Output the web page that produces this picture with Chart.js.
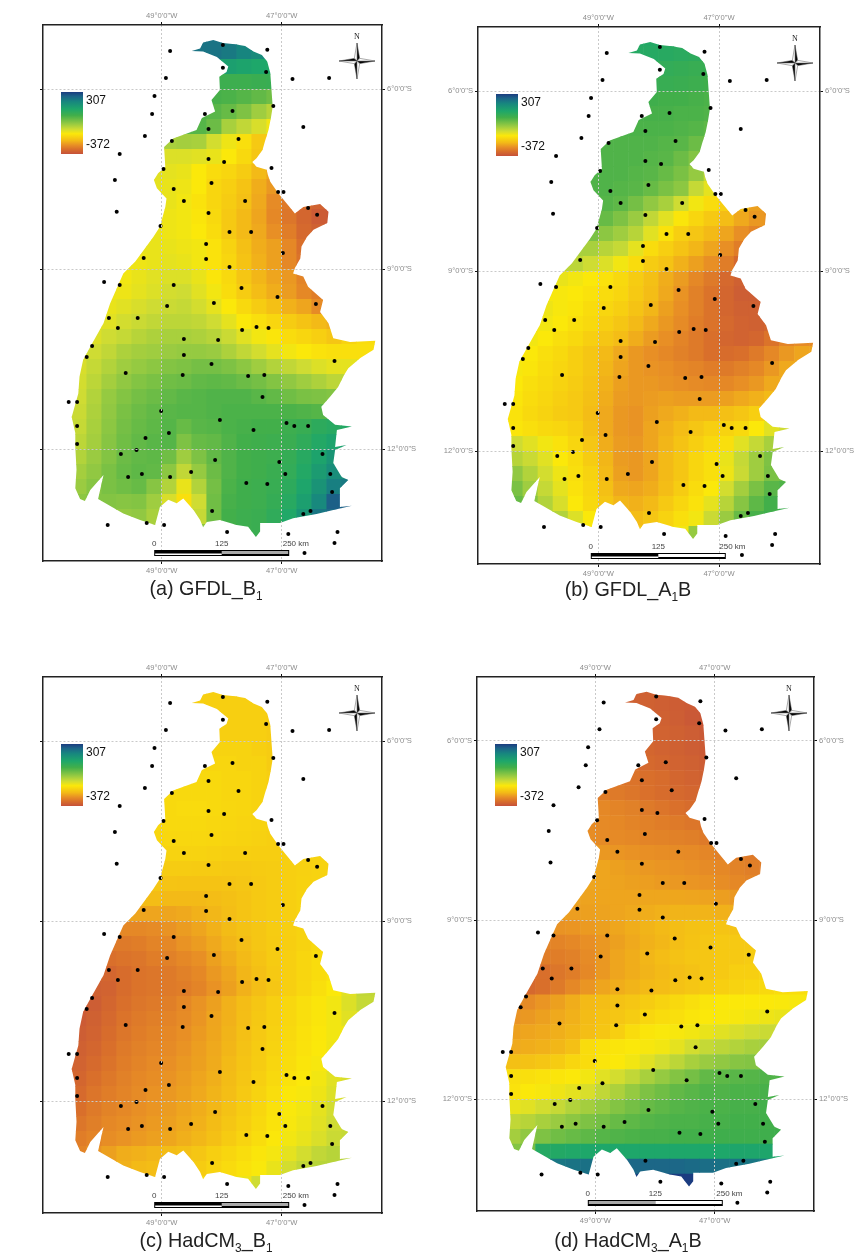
<!DOCTYPE html>
<html>
<head>
<meta charset="utf-8">
<script src="https://cdn.jsdelivr.net/npm/chart.js"></script>
<style>
html, body { margin: 0; padding: 0; background: #fff; }
#page { position: relative; width: 857px; height: 1253px; overflow: hidden; background: #fff; }
canvas { position: absolute; }
.caption { position: absolute; transform: translate(-50%, -50%); font: 19.8px "Liberation Sans", Arial, sans-serif; color: #222; white-space: nowrap; line-height: 1; }
.caption sub { font-size: .6em; line-height: 0; }
</style>
</head>
<body>
<div id="page"></div>
<script>
// ticks
var lonTicks = [-49, -47];
var latTicks = [-6, -9, -12];

// colour scale of the maps (mm)
var legendMax = 307;
var legendMin = -372;
var rampValues = [-372, -320, -275, -225, -150, -100, -45, 50, 120, 205, 260, 307];
var rampColors = ['#C5513A', '#D96F2B', '#E88F25', '#F3BA17', '#FBE80A', '#CFDC33', '#9ACB41', '#42AF4A', '#1EA76A', '#17857F', '#1C6488', '#1B3C80'];

// state outline, lon and lat
var outlineLon = [-48.50,-48.36,-48.31,-48.14,-47.98,-47.78,-47.61,-47.47,-47.33,-47.24,-47.19,-47.17,-47.15,-47.18,-47.22,-47.28,-47.32,-47.42,-47.49,-47.42,-47.25,-47.23,-47.19,-47.06,-46.92,-46.78,-46.64,-46.36,-46.22,-46.24,-46.47,-46.58,-46.67,-46.69,-46.78,-46.81,-46.64,-46.56,-46.31,-46.36,-46.22,-46.14,-45.86,-45.44,-45.47,-45.69,-45.89,-45.96,-46.06,-46.19,-46.34,-46.31,-46.11,-45.83,-46.08,-46.11,-45.92,-46.11,-46.14,-46.00,-45.89,-46.03,-46.03,-45.83,-46.14,-46.42,-46.81,-47.03,-47.36,-47.36,-47.43,-47.56,-47.75,-48.03,-48.25,-48.31,-48.36,-48.47,-48.64,-48.75,-48.89,-49.03,-49.11,-49.36,-49.64,-50.06,-49.97,-50.19,-50.28,-50.36,-50.44,-50.42,-50.44,-50.44,-50.50,-50.39,-50.37,-50.31,-50.19,-49.97,-49.86,-49.64,-49.44,-49.14,-49.03,-48.94,-48.92,-49.08,-49.13,-49.06,-48.94,-48.96,-48.81,-48.42,-48.33,-48.11,-48.17,-48.03,-48.04,-47.92,-47.89,-48.08,-48.31];
var outlineLat = [-5.36,-5.32,-5.22,-5.18,-5.23,-5.25,-5.28,-5.37,-5.43,-5.54,-5.73,-6.01,-6.29,-6.48,-6.68,-6.87,-7.01,-7.15,-7.21,-7.29,-7.34,-7.43,-7.54,-7.73,-7.90,-8.07,-7.96,-7.91,-8.04,-8.23,-8.34,-8.46,-8.62,-8.82,-8.98,-9.07,-9.12,-9.29,-9.51,-9.71,-9.90,-10.15,-10.21,-10.19,-10.34,-10.48,-10.65,-10.76,-10.96,-11.12,-11.29,-11.43,-11.59,-11.62,-11.68,-11.96,-11.93,-12.01,-12.23,-12.46,-12.51,-12.65,-12.96,-12.94,-13.01,-13.08,-13.15,-13.23,-13.23,-13.37,-13.46,-13.29,-13.26,-13.18,-13.21,-13.30,-13.18,-13.01,-12.82,-12.90,-12.84,-12.96,-13.26,-13.18,-13.07,-12.83,-12.43,-12.68,-12.86,-12.83,-12.65,-12.34,-11.96,-11.73,-11.46,-11.07,-10.79,-10.51,-10.29,-9.90,-9.57,-9.07,-8.87,-8.46,-8.29,-7.96,-7.82,-7.65,-7.51,-7.40,-7.29,-6.96,-6.82,-6.68,-6.48,-6.37,-6.18,-6.01,-5.79,-5.71,-5.62,-5.46,-5.37];

// rain gauge stations
var stationLon = [-48.86,-47.98,-47.24,-47.98,-47.26,-48.93,-46.82,-46.21,-49.12,-47.14,-49.16,-48.28,-47.82,-48.22,-46.64,-49.28,-48.83,-47.72,-49.70,-48.22,-47.96,-47.17,-48.97,-49.78,-48.17,-48.80,-47.06,-46.97,-48.63,-47.61,-46.56,-49.75,-48.22,-46.41,-49.02,-47.87,-47.51,-48.26,-46.98,-49.30,-48.26,-47.87,-49.96,-49.70,-48.80,-47.67,-47.07,-46.43,-48.91,-48.13,-49.88,-49.40,-49.73,-47.42,-47.66,-47.22,-48.63,-48.06,-50.16,-50.25,-48.63,-46.12,-48.17,-49.60,-48.65,-47.56,-47.29,-47.32,-50.55,-50.41,-49.01,-48.03,-46.92,-46.79,-46.56,-50.41,-47.47,-48.88,-49.27,-50.41,-49.42,-49.68,-46.32,-48.11,-47.04,-49.33,-48.51,-46.94,-46.19,-49.56,-48.86,-47.59,-47.24,-46.16,-48.16,-46.52,-46.64,-49.25,-49.90,-48.96,-47.91,-46.07,-46.89,-46.12,-46.62];
var stationLat = [-5.36,-5.26,-5.34,-5.64,-5.71,-5.81,-5.83,-5.81,-6.11,-6.28,-6.41,-6.41,-6.36,-6.66,-6.63,-6.78,-6.86,-6.83,-7.08,-7.16,-7.21,-7.31,-7.33,-7.51,-7.56,-7.66,-7.71,-7.71,-7.86,-7.86,-7.98,-8.04,-8.06,-8.09,-8.28,-8.38,-8.38,-8.58,-8.73,-8.81,-8.83,-8.96,-9.21,-9.26,-9.26,-9.31,-9.46,-9.58,-9.61,-9.56,-9.81,-9.81,-9.98,-9.96,-10.01,-9.98,-10.16,-10.18,-10.28,-10.46,-10.43,-10.53,-10.58,-10.73,-10.76,-10.78,-10.76,-11.13,-11.21,-11.21,-11.36,-11.51,-11.56,-11.61,-11.61,-11.61,-11.68,-11.73,-11.81,-11.91,-12.01,-12.08,-12.08,-12.18,-12.21,-12.41,-12.38,-12.41,-12.41,-12.46,-12.46,-12.56,-12.58,-12.71,-13.03,-13.03,-13.08,-13.23,-13.26,-13.26,-13.38,-13.38,-13.41,-13.56,-13.73];

// 0.25 degree grid: first column of each row, row 0 starts at 5S, column 0 at 50.5W
var rowStartCol = [8,8,10,10,9,8,8,6,6,5,5,6,5,5,5,4,3,3,2,2,1,0,0,0,0,0,0,0,0,0,0,0,3,5];

var gfdlB1Rows = [
[235,235,225,210],
[235,235,225,205,190,175],
[140,130,120,115],
[60,60,65,70],
[45,40,30,15,0],
[35,25,10,-15,-50,-75],
[30,5,-60,-85,-110,-140],
[-60,-55,-60,-105,-135,-165,-200],
[-115,-115,-120,-130,-150,-175,-205],
[-120,-125,-130,-150,-170,-180,-195,-225,-250],
[-125,-130,-135,-150,-180,-190,-210,-240,-265],
[-130,-140,-160,-180,-195,-215,-245,-280,-305,-325,-340],
[-130,-135,-140,-155,-175,-200,-225,-250,-285,-310,-335,-355,-360],
[-130,-135,-140,-150,-170,-200,-225,-245,-275,-300,-330,-345],
[-130,-130,-135,-140,-160,-185,-215,-240,-255,-285,-320],
[-135,-130,-125,-130,-140,-160,-180,-210,-235,-255,-285,-315],
[-140,-130,-120,-115,-115,-130,-155,-175,-205,-230,-250,-265,-290],
[-135,-125,-115,-105,-100,-120,-140,-170,-195,-220,-240,-260,-285,-300],
[-130,-120,-110,-100,-95,-90,-105,-125,-150,-175,-195,-215,-235,-250,-280],
[-120,-105,-95,-85,-80,-80,-85,-100,-125,-150,-165,-180,-195,-210,-225,-235],
[-115,-100,-90,-75,-65,-60,-60,-65,-75,-95,-120,-140,-155,-170,-180,-190,-205,-185,-170],
[-115,-100,-85,-65,-55,-50,-45,-40,-40,-45,-65,-85,-105,-125,-140,-150,-160,-165,-165,-165],
[-110,-90,-70,-50,-40,-30,-20,-15,-5,-5,-15,-30,-50,-70,-85,-100,-115,-125,-125],
[-105,-80,-55,-35,-20,-10,0,5,15,20,15,5,-5,-20,-35,-50,-65,-80],
[-100,-70,-40,-20,-5,5,15,25,30,35,35,35,25,15,0,-10,-15,-20],
[-95,-65,-35,-10,5,15,25,30,30,35,40,40,40,40,40,35,30],
[-90,-60,-30,-5,10,20,30,10,25,30,40,45,50,50,60,70,90,100,110],
[-80,-55,-25,0,15,25,30,-15,10,15,35,50,55,60,65,85,110,130,140],
[-70,-45,-20,5,15,20,0,-50,-15,15,35,50,55,60,75,100,130,165],
[-55,-35,-10,10,20,15,-30,-85,-40,5,35,50,55,65,80,110,150,185,190],
[-45,-25,-10,0,10,-25,-70,-130,-70,-5,40,55,60,70,90,125,170,215,225],
[-30,-20,-20,-25,-20,-50,-110,-165,-100,0,45,55,60,75,100,140,195,265,265],
[-40,-35,-60,-100,-150,-90,0,50,60,65,85,115,165,230,250],
[-60,-80,-90,-30,30,50,60,65]
];

var gfdlA1bRows = [
[110,110,105,100],
[105,105,100,95,90,85],
[80,75,70,70],
[70,65,60,55],
[55,50,50,45,40],
[45,45,45,40,40,35],
[40,40,40,35,30,20],
[35,35,35,35,30,25,5],
[35,35,35,30,25,5,-20],
[35,35,35,30,25,10,-10,-40,-90],
[35,35,30,25,10,-10,-30,-90,-125],
[30,20,-5,-35,-60,-100,-140,-170,-190,-215,-255],
[15,10,-15,-45,-85,-120,-155,-180,-200,-220,-245,-265,-270],
[-10,-30,-50,-75,-120,-160,-190,-205,-225,-250,-275,-290],
[-60,-75,-90,-125,-170,-190,-210,-230,-250,-275,-300],
[-80,-100,-115,-140,-170,-195,-210,-235,-255,-275,-300,-330],
[-130,-140,-150,-160,-175,-195,-215,-240,-260,-285,-305,-330,-345],
[-145,-150,-160,-170,-180,-200,-220,-245,-270,-295,-315,-335,-350,-350],
[-135,-145,-155,-170,-180,-190,-210,-230,-255,-275,-295,-315,-335,-345,-345],
[-140,-150,-165,-175,-190,-205,-225,-245,-265,-280,-300,-315,-330,-340,-345,-335],
[-140,-150,-165,-175,-190,-205,-220,-240,-260,-275,-290,-305,-320,-335,-340,-335,-315,-290,-280],
[-140,-150,-165,-175,-190,-205,-225,-245,-265,-275,-285,-295,-305,-320,-325,-320,-305,-285,-265,-250],
[-145,-155,-170,-180,-190,-205,-230,-250,-265,-270,-275,-285,-290,-300,-305,-295,-285,-265,-245],
[-150,-165,-175,-185,-195,-210,-235,-255,-265,-265,-270,-275,-280,-285,-285,-275,-265,-245],
[-155,-170,-180,-190,-200,-215,-240,-260,-265,-260,-255,-260,-260,-260,-255,-245,-235,-225],
[-160,-175,-185,-195,-200,-220,-245,-265,-270,-255,-245,-235,-225,-225,-215,-205,-190],
[-155,-165,-175,-180,-190,-215,-245,-265,-270,-250,-235,-220,-205,-190,-185,-175,-150,-120,-100],
[-100,-120,-140,-160,-180,-205,-240,-260,-265,-250,-230,-210,-190,-175,-165,-120,-90,-60,-40],
[-75,-95,-120,-150,-170,-195,-230,-260,-265,-250,-225,-205,-180,-165,-130,-90,-50,-15],
[-35,-70,-105,-135,-165,-185,-225,-255,-265,-250,-225,-205,-180,-165,-135,-95,-50,-10,0],
[-10,-50,-90,-125,-160,-180,-215,-245,-250,-240,-220,-195,-170,-150,-105,-55,-10,25,35],
[10,-25,-70,-110,-150,-175,-205,-230,-235,-225,-200,-180,-160,-125,-75,-25,20,50,60],
[-70,-115,-150,-190,-210,-220,-205,-185,-165,-140,-95,-45,10,45,55],
[-160,-190,-200,-200,-185,-165,-140,-40]
];

var hadcmB1Rows = [
[-190,-190,-190,-190],
[-190,-190,-190,-190,-190,-195],
[-190,-190,-190,-195],
[-190,-190,-190,-195],
[-185,-185,-185,-190,-195],
[-180,-180,-180,-185,-185,-195],
[-175,-175,-180,-180,-185,-190],
[-175,-175,-175,-175,-180,-180,-185],
[-175,-172,-172,-175,-178,-180,-185],
[-178,-175,-175,-175,-178,-180,-182,-185,-188],
[-180,-178,-178,-178,-180,-182,-185,-188,-190],
[-185,-185,-185,-188,-190,-190,-192,-192,-190,-188,-185],
[-195,-195,-195,-198,-198,-200,-200,-198,-195,-190,-188,-185,-185],
[-205,-208,-210,-210,-210,-208,-205,-200,-195,-190,-186,-185],
[-220,-225,-225,-225,-220,-215,-208,-200,-195,-190,-185],
[-250,-250,-250,-245,-235,-228,-218,-208,-200,-195,-190,-185],
[-285,-285,-280,-270,-260,-250,-235,-222,-212,-205,-195,-190,-185],
[-305,-300,-290,-285,-270,-260,-245,-230,-218,-205,-198,-192,-185,-175],
[-320,-315,-310,-300,-295,-285,-275,-255,-240,-225,-210,-198,-190,-180,-170],
[-335,-325,-315,-310,-305,-295,-285,-265,-250,-230,-215,-200,-190,-180,-170,-160],
[-345,-340,-325,-315,-310,-305,-300,-290,-272,-255,-235,-218,-205,-190,-178,-165,-150,-120,-85],
[-355,-350,-335,-320,-310,-305,-298,-285,-270,-255,-235,-220,-205,-190,-178,-165,-155,-140,-115,-90],
[-355,-345,-330,-315,-305,-298,-290,-280,-268,-250,-235,-218,-202,-190,-178,-165,-155,-140,-120],
[-350,-340,-325,-310,-300,-292,-285,-275,-262,-248,-232,-215,-200,-188,-175,-162,-152,-140],
[-345,-335,-320,-305,-295,-288,-280,-270,-258,-245,-230,-212,-198,-185,-172,-160,-150,-138],
[-340,-328,-315,-300,-290,-282,-275,-265,-255,-242,-225,-208,-195,-180,-168,-155,-145],
[-335,-320,-308,-295,-285,-278,-270,-260,-250,-238,-222,-205,-190,-175,-160,-150,-140,-120,-110],
[-328,-312,-300,-290,-280,-272,-265,-255,-245,-232,-218,-200,-185,-168,-152,-145,-135,-115,-105],
[-320,-305,-292,-285,-275,-268,-260,-250,-240,-228,-212,-195,-180,-162,-148,-140,-125,-105],
[-310,-298,-285,-278,-270,-262,-255,-245,-235,-222,-205,-190,-175,-158,-145,-135,-120,-100,-95],
[-300,-290,-278,-270,-262,-255,-248,-238,-228,-215,-198,-182,-168,-152,-140,-128,-112,-95,-90],
[-290,-270,-255,-240,-235,-230,-222,-215,-205,-190,-180,-168,-155,-142,-125,-105,-85,-75,-75],
[-235,-225,-220,-212,-205,-195,-182,-172,-160,-148,-130,-105,-85,-75,-75],
[-205,-195,-185,-170,-160,-150,-135,-100]
];

var hadcmA1bRows = [
[-345,-345,-345,-345],
[-345,-345,-348,-352,-355,-358],
[-345,-350,-358,-362],
[-340,-345,-350,-358],
[-335,-340,-345,-350,-355],
[-325,-330,-335,-340,-345,-352],
[-315,-320,-325,-335,-340,-345],
[-300,-305,-310,-318,-325,-330,-335],
[-285,-290,-295,-305,-312,-318,-325],
[-280,-282,-285,-290,-295,-300,-305,-310,-315],
[-278,-280,-282,-285,-290,-292,-295,-298,-305],
[-265,-268,-272,-275,-278,-280,-282,-288,-295,-300,-305],
[-250,-250,-255,-260,-265,-268,-272,-275,-280,-285,-292,-298,-300],
[-250,-250,-252,-255,-258,-262,-265,-268,-272,-278,-285,-290],
[-252,-250,-250,-250,-248,-248,-248,-250,-252,-258,-265],
[-258,-255,-252,-250,-245,-240,-235,-232,-232,-232,-235,-240],
[-270,-268,-262,-255,-248,-240,-232,-225,-218,-212,-210,-208,-210],
[-290,-285,-275,-265,-255,-245,-235,-228,-218,-210,-205,-200,-200,-200],
[-300,-300,-295,-280,-265,-250,-240,-230,-220,-212,-205,-205,-200,-200,-195],
[-320,-310,-300,-285,-265,-250,-240,-232,-225,-218,-212,-205,-200,-190,-190,-185],
[-330,-320,-305,-285,-268,-250,-240,-232,-225,-220,-212,-205,-198,-190,-185,-180,-175,-170,-168],
[-290,-280,-268,-255,-240,-225,-218,-212,-205,-195,-185,-175,-165,-155,-150,-150,-150,-150,-148,-145],
[-270,-265,-255,-245,-235,-222,-210,-205,-195,-180,-170,-165,-155,-150,-148,-145,-140,-135,-130],
[-255,-250,-245,-238,-230,-218,-205,-190,-170,-155,-148,-145,-140,-130,-120,-110,-100,-95],
[-245,-240,-235,-228,-215,-170,-160,-155,-150,-145,-140,-125,-105,-90,-80,-70,-60,-55],
[-215,-212,-205,-195,-180,-170,-155,-150,-140,-120,-100,-80,-60,-45,-35,-25,-20],
[-165,-165,-160,-155,-150,-140,-120,-105,-85,-60,-40,-20,-5,15,20,25,30,35,35],
[-160,-150,-145,-135,-125,-110,-85,-65,-40,-15,0,15,25,35,35,40,40,45,45],
[-130,-120,-105,-90,-70,-55,-40,-20,-5,10,20,30,35,40,40,45,45,50],
[-85,-75,-60,-45,-30,-15,-5,10,20,30,35,40,40,45,45,50,50,50,50],
[-55,-35,-15,0,10,20,30,35,40,45,45,50,50,50,55,55,55,55,55],
[-20,-5,105,110,115,120,120,120,120,120,120,120,120,120,120,125,125,125,125],
[230,235,240,245,250,255,255,255,255,250,245,240,235,230,225],
[270,285,295,300,300,305,307,307]
];

// where each map sits on the page
var panels = [
    { rows: gfdlB1Rows, caption: '(a) GFDL_B<sub>1</sub>', capX: 206, capY: 589, left: 43, right: 382, top: 25, bottom: 561, lon49: 161.7, lon47: 281.7, lat6: 89.3, lat12: 449.3, leftLabels: false, barLeft: '#fff', barRight: '#aaa' },
    { rows: gfdlA1bRows, caption: '(b) GFDL_A<sub>1</sub>B', capX: 628, capY: 590, left: 478, right: 820, top: 27, bottom: 564, lon49: 598.3, lon47: 719, lat6: 91.3, lat12: 451.3, leftLabels: true, barLeft: '#fff', barRight: '#fff' },
    { rows: hadcmB1Rows, caption: '(c) HadCM<sub>3</sub>_B<sub>1</sub>', capX: 206, capY: 1241, left: 43, right: 382, top: 677, bottom: 1213, lon49: 161.7, lon47: 281.7, lat6: 741.3, lat12: 1101.3, leftLabels: false, barLeft: '#fff', barRight: '#aaa' },
    { rows: hadcmA1bRows, caption: '(d) HadCM<sub>3</sub>_A<sub>1</sub>B', capX: 628, capY: 1241, left: 477, right: 814, top: 677, bottom: 1211, lon49: 595.3, lon47: 714.7, lat6: 740.7, lat12: 1099.3, leftLabels: true, barLeft: '#aaa', barRight: '#fff' }
];

var sideW = 40;
var sideH = 25;
var fontName = '"Liberation Sans", Arial, sans-serif';

function hexToRgb(h) {
    return [parseInt(h.substr(1, 2), 16), parseInt(h.substr(3, 2), 16), parseInt(h.substr(5, 2), 16)];
}

function colorFor(v) {
    var i = 0;
    while (i < rampValues.length - 2 && v > rampValues[i + 1]) i++;
    var f = (v - rampValues[i]) / (rampValues[i + 1] - rampValues[i]);
    f = Math.max(0, Math.min(1, f));
    var a = hexToRgb(rampColors[i]), b = hexToRgb(rampColors[i + 1]);
    return 'rgb(' + Math.round(a[0] + (b[0] - a[0]) * f) + ',' + Math.round(a[1] + (b[1] - a[1]) * f) + ',' + Math.round(a[2] + (b[2] - a[2]) * f) + ')';
}

function buildCells(rows) {
    var cells = [];
    rows.forEach(function (row, r) {
        var first = rowStartCol[r];
        var y = -5.125 - 0.25 * r;
        // the end cells go one further out so the border clip never shows a gap
        cells.push({ x: -50.375 + 0.25 * (first - 1), y: y, v: row[0] });
        cells.push({ x: -50.375 + 0.25 * (first + row.length), y: y, v: row[row.length - 1] });
        row.forEach(function (v, k) {
            cells.push({ x: -50.375 + 0.25 * (first + k), y: y, v: v });
        });
    });
    return cells;
}

// the maps are clipped to the state border
var outlineClip = {
    id: 'outlineClip',
    beforeDatasetDraw: function (chart, args) {
        if (args.index !== 1) return;
        var ctx = chart.ctx;
        ctx.save();
        ctx.beginPath();
        outlineLon.forEach(function (lon, i) {
            var px = chart.scales.x.getPixelForValue(lon);
            var py = chart.scales.y.getPixelForValue(outlineLat[i]);
            if (i === 0) ctx.moveTo(px, py); else ctx.lineTo(px, py);
        });
        ctx.closePath();
        ctx.clip();
    },
    afterDatasetDraw: function (chart, args) {
        if (args.index === 1) chart.ctx.restore();
    }
};

function drawLegend(ctx, a) {
    var x = a.left + 18, y = a.top + 67, w = 22, h = 62;
    var g = ctx.createLinearGradient(0, y + h, 0, y);
    rampValues.forEach(function (v, i) {
        g.addColorStop((v - legendMin) / (legendMax - legendMin), rampColors[i]);
    });
    ctx.fillStyle = g;
    ctx.fillRect(x, y, w, h);
    ctx.fillStyle = '#111';
    ctx.font = '12px ' + fontName;
    ctx.textAlign = 'left';
    ctx.textBaseline = 'middle';
    ctx.fillText(String(legendMax), x + 25, y + 9);
    ctx.fillText(String(legendMin), x + 25, y + 53);
}

function drawCompass(ctx, a) {
    var cx = a.right - 25, cy = a.top + 36, len = 18, s = 2.6;
    var dirs = [[0, -1], [1, 0], [0, 1], [-1, 0]];
    dirs.forEach(function (d) {
        var nx = -d[1], ny = d[0];
        [[1, '#000'], [-1, '#fff']].forEach(function (side) {
            ctx.beginPath();
            ctx.moveTo(cx, cy);
            ctx.lineTo(cx + d[0] * len, cy + d[1] * len);
            ctx.lineTo(cx + d[0] * 3 + nx * s * side[0], cy + d[1] * 3 + ny * s * side[0]);
            ctx.closePath();
            ctx.fillStyle = side[1];
            ctx.strokeStyle = '#555';
            ctx.lineWidth = 0.5;
            ctx.fill();
            ctx.stroke();
        });
    });
    ctx.fillStyle = '#222';
    ctx.font = '8px "Liberation Serif", serif';
    ctx.textAlign = 'center';
    ctx.textBaseline = 'middle';
    ctx.fillText('N', cx, cy - 24);
}

function drawScaleBar(ctx, a, p, x49) {
    var x = x49 - 7.5, w = 135, half = w / 2, y = a.bottom - 11, h = 6;
    ctx.fillStyle = '#000';
    ctx.fillRect(x, y, w, h);
    ctx.fillStyle = p.barLeft;
    if (p.barLeft === '#aaa') ctx.fillRect(x + 1, y + 1, half - 1, 3);
    else ctx.fillRect(x + 1, y + 3.5, half - 1, 1.5);
    ctx.fillStyle = p.barRight;
    ctx.fillRect(x + half, y + 1, half - 1, 3);
    ctx.fillStyle = '#444';
    ctx.font = '8px ' + fontName;
    ctx.textBaseline = 'middle';
    ctx.textAlign = 'center';
    ctx.fillText('0', x, y - 6.5);
    ctx.fillText('125', x + half, y - 6.5);
    ctx.textAlign = 'left';
    ctx.fillText('250 km', x + w - 6.5, y - 6.5);
}

var mapExtras = {
    id: 'mapExtras',
    afterDraw: function (chart) {
        var ctx = chart.ctx, a = chart.chartArea, p = chart.options.plugins.mapExtras.panel;
        ctx.save();
        drawLegend(ctx, a);
        drawCompass(ctx, a);
        drawScaleBar(ctx, a, p, chart.scales.x.getPixelForValue(-49));
        ctx.restore();
    }
};

function lonLabel(v) { return (-v) + '\u00B00\'0"W'; }
function latLabel(v) { return (-v) + '\u00B00\'0"S'; }

function axisOptions(position, tickValues, range, label, drawGrid, fit) {
    return {
        type: 'linear',
        position: position,
        min: range[0],
        max: range[1],
        afterBuildTicks: function (scale) {
            scale.ticks = tickValues.map(function (v) { return { value: v }; });
        },
        afterFit: fit,
        grid: { color: '#c9c9c9', lineWidth: 1, tickColor: '#111', tickLength: 3, z: 1, drawOnChartArea: drawGrid },
        border: { display: true, color: '#222', width: 1.5, dash: [2, 2], z: 1 },
        ticks: {
            autoSkip: false,
            maxRotation: 0,
            padding: 2,
            color: '#8c8c8c',
            font: { family: fontName, size: 7.6 },
            callback: label
        }
    };
}

var page = document.getElementById('page');

panels.forEach(function (p) {
    var canvas = document.createElement('canvas');
    var w = p.right - p.left + sideW * 2;
    var h = p.bottom - p.top + sideH * 2;
    canvas.width = w;
    canvas.height = h;
    canvas.style.left = (p.left - sideW) + 'px';
    canvas.style.top = (p.top - sideH) + 'px';
    page.appendChild(canvas);

    var cap = document.createElement('div');
    cap.className = 'caption';
    cap.style.left = p.capX + 'px';
    cap.style.top = p.capY + 'px';
    cap.innerHTML = p.caption;
    page.appendChild(cap);

    var pxLon = (p.lon47 - p.lon49) / 2;
    var pxLat = (p.lat12 - p.lat6) / 6;
    var xRange = [-49 + (p.left - p.lon49) / pxLon, -49 + (p.right - p.lon49) / pxLon];
    var yRange = [-6 - (p.bottom - p.lat6) / pxLat, -6 - (p.top - p.lat6) / pxLat];
    var fitX = function (s) { s.height = sideH; };
    var fitY = function (s) { s.width = sideW; };
    var blank = function () { return ''; };

    var stations = stationLon.map(function (lon, i) { return { x: lon, y: stationLat[i] }; });
    var cells = buildCells(p.rows);

    new Chart(canvas, {
        type: 'scatter',
        data: {
            datasets: [
                { label: 'Stations', data: stations, pointStyle: 'circle', pointRadius: 2, pointBackgroundColor: '#000', pointBorderWidth: 0, clip: false },
                {
                    label: 'Change',
                    data: cells,
                    pointStyle: 'rect',
                    pointRadius: pxLon * 0.25 * Math.SQRT1_2 + 0.4,
                    pointBorderWidth: 0,
                    pointBackgroundColor: cells.map(function (c) { return colorFor(c.v); })
                }
            ]
        },
        options: {
            responsive: false,
            animation: false,
            events: [],
            layout: { padding: 0 },
            plugins: { legend: { display: false }, tooltip: { enabled: false }, mapExtras: { panel: p } },
            scales: {
                x: axisOptions('bottom', lonTicks, xRange, lonLabel, true, fitX),
                x2: axisOptions('top', lonTicks, xRange, lonLabel, false, fitX),
                y: axisOptions('left', latTicks, yRange, p.leftLabels ? latLabel : blank, true, fitY),
                y2: axisOptions('right', latTicks, yRange, latLabel, false, fitY)
            }
        },
        plugins: [outlineClip, mapExtras]
    });
});
</script>
</body>
</html>
